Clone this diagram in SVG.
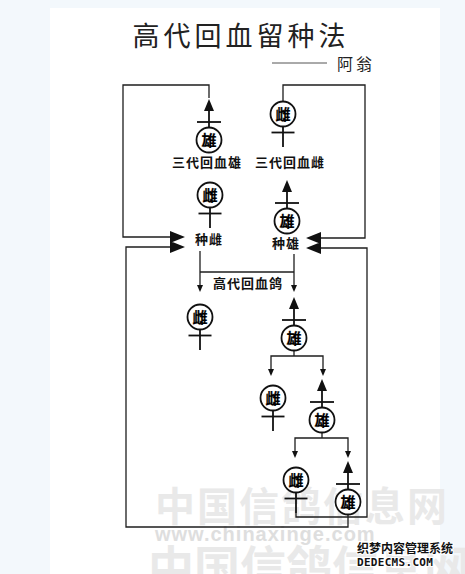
<svg xmlns="http://www.w3.org/2000/svg" width="465" height="574" viewBox="0 0 465 574">
<style>
.ln{fill:none;stroke:#1e1e1e;stroke-width:1.3}
.cir{fill:#fff;stroke:#111;stroke-width:1.8}
.bar{stroke:#111;stroke-width:1.8}
.ah{fill:#111}
.ch{font-family:"Noto Sans CJK JP","Noto Sans CJK SC",sans-serif;font-weight:700;font-size:15px;text-anchor:middle;fill:#000;stroke:#000;stroke-width:0.2}
.lbl{font-family:"Noto Sans CJK SC","Noto Sans CJK JP",sans-serif;font-weight:bold;font-size:13px;text-anchor:middle;fill:#111;letter-spacing:1px}
.wm{font-family:"Noto Sans CJK SC",sans-serif;font-weight:bold;fill:#e9e9e9}
</style>
<defs>
<g id="male">
<path class="ah" d="M0,-41 L5,-29 L-5,-29 Z"/>
<line class="bar" x1="0" y1="-30" x2="0" y2="-12"/>
<line class="bar" x1="-12" y1="-18" x2="12" y2="-18"/>
<circle class="cir" cx="0" cy="0" r="12.5"/>
<text class="ch" x="0" y="5.5">雄</text>
</g>
<g id="female">
<line class="bar" x1="0" y1="12" x2="0" y2="33"/>
<line class="bar" x1="-11.5" y1="18.5" x2="11.5" y2="18.5"/>
<circle class="cir" cx="0" cy="0" r="12.5"/>
<text class="ch" x="0" y="5.5">雌</text>
</g>
<path id="dbl" d="M0,-6 L15,0 L0,6 Z M0,4 L15,10 L0,16 Z"/>
<path id="sa" d="M-3,-7 L3,-7 L0,0 Z"/>
</defs>
<rect x="0" y="0" width="465" height="574" fill="#f3f8fc"/>
<rect x="50" y="8" width="390" height="566" fill="#ffffff"/>
<g id="watermark">
<text class="wm" x="155" y="521" font-size="40" letter-spacing="2">中国信鸽信息网</text>
<text class="wm" x="148" y="584" font-size="46">中国信鸽信息网</text>
<text x="155" y="541" font-family="Liberation Sans,sans-serif" font-weight="bold" font-size="20" fill="#dedede" letter-spacing="1">www.chinaxinge.com</text>
</g>
<g id="title">
<text x="241" y="46" font-family="Noto Sans CJK SC,sans-serif" font-size="27" fill="#222" text-anchor="middle" letter-spacing="4">高代回血留种法</text>
<line x1="272" y1="63" x2="327" y2="63" stroke="#555" stroke-width="1"/>
<text x="337" y="70" font-family="Noto Sans CJK SC,sans-serif" font-size="16" fill="#222" letter-spacing="3">阿翁</text>
</g>
<g id="connectors">
<polyline class="ln" points="209,98 209,85 123,85 123,237 172,237"/>
<polyline class="ln" points="348,514 348,527 126,527 126,247 172,247"/>
<polyline class="ln" points="283,101 283,85 365,85 365,238 318,238"/>
<polyline class="ln" points="296,513 296,517 367,517 367,248 318,248"/>
<use href="#dbl" class="ah" x="170" y="237"/>
<g transform="translate(321,238) scale(-1,1)"><use href="#dbl" class="ah"/></g>
<polyline class="ln" points="200,251 200,288"/>
<polyline class="ln" points="294,254 294,288"/>
<line class="ln" x1="200" y1="272" x2="294" y2="272"/>
<use href="#sa" class="ah" x="200" y="292"/>
<use href="#sa" class="ah" x="294" y="292"/>
<polyline class="ln" points="271,372 271,356 323,356 323,372"/>
<line class="ln" x1="294" y1="350" x2="294" y2="356"/>
<use href="#sa" class="ah" x="271" y="376"/>
<use href="#sa" class="ah" x="323" y="376"/>
<polyline class="ln" points="295,454 295,438 348,438 348,454"/>
<line class="ln" x1="322" y1="432" x2="322" y2="438"/>
<use href="#sa" class="ah" x="295" y="458"/>
<use href="#sa" class="ah" x="348" y="458"/>
<text class="lbl" x="248" y="288">高代回血鸽</text>
</g>
<g id="n-sanxiong"><use href="#male" x="209" y="140"/><text class="lbl" x="207" y="167">三代回血雄</text></g>
<g id="n-sanci"><use href="#female" x="283" y="114"/><text class="lbl" x="290" y="167">三代回血雌</text></g>
<g id="n-zhongci"><use href="#female" x="210" y="195"/><text class="lbl" x="209" y="244">种雌</text></g>
<g id="n-zhongxiong"><use href="#male" x="287" y="221"/><text class="lbl" x="286" y="248">种雄</text></g>
<g id="n-ci1"><use href="#female" x="200" y="317"/></g>
<g id="n-xiong1"><use href="#male" x="294" y="338"/></g>
<g id="n-ci2"><use href="#female" x="273" y="398"/></g>
<g id="n-xiong2"><use href="#male" x="322" y="420"/></g>
<g id="n-ci3"><use href="#female" x="296" y="480"/></g>
<g id="n-xiong3"><use href="#male" x="348" y="502"/></g>
<g id="logo" font-family="Noto Sans CJK SC,sans-serif" font-weight="bold" fill="#111" stroke="#fff" stroke-width="2" paint-order="stroke">
<text x="357" y="553" font-size="12">织梦内容管理系统</text>
<text x="357" y="566" font-size="11" font-family="DejaVu Sans Mono,monospace" letter-spacing="0.3">DEDECMS.COM</text>
</g>
</svg>
